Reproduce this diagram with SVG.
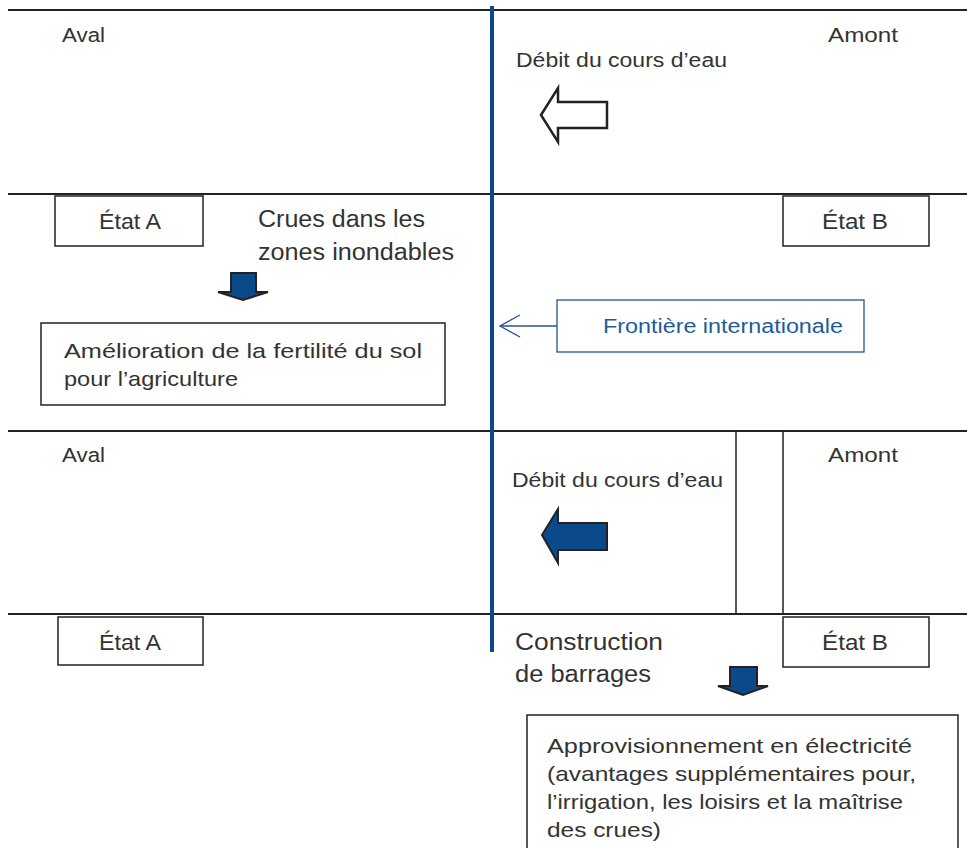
<svg xmlns="http://www.w3.org/2000/svg" width="967" height="848" viewBox="0 0 967 848">
<style>
.hl{stroke:#222;stroke-width:2;fill:none}
.box{fill:#fff;stroke:#222;stroke-width:1.5}
.t{font-family:"Liberation Sans",Arial,sans-serif;fill:#333;font-size:20px}
.tm{font-family:"Liberation Sans",Arial,sans-serif;fill:#333;font-size:21px}
.tb{font-family:"Liberation Sans",Arial,sans-serif;fill:#333;font-size:23px}
.st{font-family:"Liberation Sans",Arial,sans-serif;fill:#333;font-size:22px;text-anchor:middle}
.fill{fill:#0b4a8a;stroke:#222;stroke-width:2;stroke-linejoin:miter}
</style>
<rect width="967" height="848" fill="#fff"/>
<g id="bands">
<line class="hl" x1="8" y1="10" x2="967" y2="10"/>
<line class="hl" x1="8" y1="194" x2="967" y2="194"/>
<line class="hl" x1="8" y1="431" x2="967" y2="431"/>
<line class="hl" x1="8" y1="614" x2="967" y2="614"/>
<rect x="736" y="431" width="47" height="183" fill="none" stroke="#222" stroke-width="1.5"/>
</g>
<g id="border-line"><line x1="492" y1="6" x2="492" y2="652" stroke="#0b4a8a" stroke-width="4"/></g>
<g id="labels-top">
<text class="t" x="62" y="42" textLength="43" lengthAdjust="spacingAndGlyphs">Aval</text>
<text class="t" x="828" y="42" textLength="70" lengthAdjust="spacingAndGlyphs">Amont</text>
<text class="t" x="516" y="67" textLength="211" lengthAdjust="spacingAndGlyphs">Débit du cours d’eau</text>
</g>
<g id="flow-arrow-top"><polygon points="541,115 558,88 558,102 607,102 607,128 558,128 558,142" fill="#fff" stroke="#222" stroke-width="2.5"/></g>
<g id="etatA-top"><rect class="box" x="55" y="196" width="148" height="50"/><text class="st" x="130" y="229" textLength="62" lengthAdjust="spacingAndGlyphs">État A</text></g>
<g id="etatB-top"><rect class="box" x="783" y="196" width="146" height="50"/><text class="st" x="855" y="229" textLength="66" lengthAdjust="spacingAndGlyphs">État B</text></g>
<g id="crues"><text class="tb" x="258" y="227" textLength="167" lengthAdjust="spacingAndGlyphs">Crues dans les</text><text class="tb" x="258" y="260" textLength="196" lengthAdjust="spacingAndGlyphs">zones inondables</text></g>
<g id="down-arrow-1"><polygon class="fill" points="231,273 256,273 256,292 268,292 243,300 218,292 231,292"/></g>
<g id="amelioration"><rect class="box" x="41" y="323" width="404" height="82"/>
<text class="tm" x="64" y="358" textLength="358" lengthAdjust="spacingAndGlyphs">Amélioration de la fertilité du sol</text>
<text class="tm" x="64" y="386" textLength="174" lengthAdjust="spacingAndGlyphs">pour l’agriculture</text></g>
<g id="frontiere"><rect x="557" y="300" width="307" height="52" fill="#fff" stroke="#0b4a8a" stroke-width="1.2"/>
<text class="t" x="603" y="333" textLength="240" lengthAdjust="spacingAndGlyphs" style="fill:#1f5b99">Frontière internationale</text></g>
<g id="connectors">
<line x1="557" y1="326" x2="500" y2="326" stroke="#2b4f9a" stroke-width="1.3"/>
<polyline points="520,315 500,326 520,337" fill="none" stroke="#2b4f9a" stroke-width="1.3"/>
</g>
<g id="labels-bottom">
<text class="t" x="62" y="462" textLength="43" lengthAdjust="spacingAndGlyphs">Aval</text>
<text class="t" x="828" y="462" textLength="70" lengthAdjust="spacingAndGlyphs">Amont</text>
<text class="t" x="512" y="487" textLength="211" lengthAdjust="spacingAndGlyphs">Débit du cours d’eau</text>
</g>
<g id="flow-arrow-bottom"><polygon class="fill" points="542,535 558,509 558,523 607,523 607,550 558,550 558,563"/></g>
<g id="etatA-bottom"><rect class="box" x="58" y="617" width="145" height="48"/><text class="st" x="130" y="650" textLength="62" lengthAdjust="spacingAndGlyphs">État A</text></g>
<g id="etatB-bottom"><rect class="box" x="783" y="617" width="146" height="50"/><text class="st" x="855" y="650" textLength="66" lengthAdjust="spacingAndGlyphs">État B</text></g>
<g id="barrages"><text class="tb" x="515" y="650" textLength="148" lengthAdjust="spacingAndGlyphs">Construction</text><text class="tb" x="515" y="682" textLength="136" lengthAdjust="spacingAndGlyphs">de barrages</text></g>
<g id="down-arrow-2"><polygon class="fill" points="730,667 757,667 757,686 768,686 743,695 718,686 730,686"/></g>
<g id="electricite"><rect class="box" x="527" y="715" width="431" height="140"/>
<text class="tm" x="547" y="753" textLength="365" lengthAdjust="spacingAndGlyphs">Approvisionnement en électricité</text>
<text class="tm" x="547" y="781" textLength="369" lengthAdjust="spacingAndGlyphs">(avantages supplémentaires pour,</text>
<text class="tm" x="547" y="809" textLength="356" lengthAdjust="spacingAndGlyphs">l’irrigation, les loisirs et la maîtrise</text>
<text class="tm" x="547" y="837" textLength="114" lengthAdjust="spacingAndGlyphs">des crues)</text></g>
</svg>
